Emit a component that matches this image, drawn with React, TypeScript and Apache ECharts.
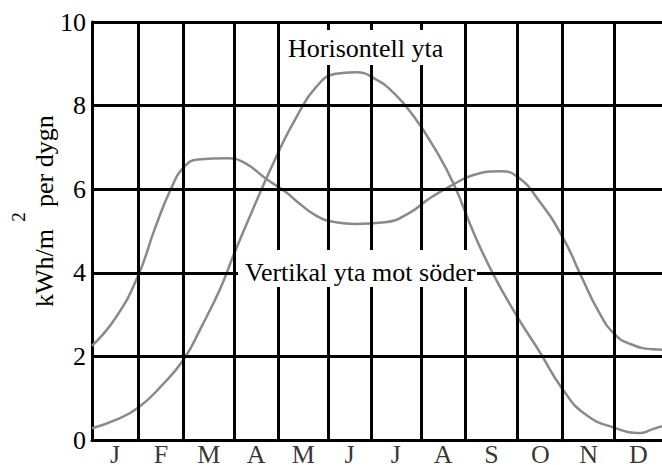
import React, { useEffect, useRef } from "react";
import * as echarts from "echarts";

// Month labels and month boundaries (in month units, 0 = start of Jan, 12 = end of Dec)
const months = ["J", "F", "M", "A", "M", "J", "J", "A", "S", "O", "N", "D"];
const monthEdges = [0.97, 1.932, 2.989, 3.921, 4.978, 5.87, 6.927, 7.859, 8.964, 9.911, 11.001];
const yTicks = [0, 2, 4, 6, 8, 10];

// kWh/m2 per dygn, horizontal surface
const horizontalSurface: [number, number][] = [
  [0, 0.28], [0.5, 0.48], [0.97, 0.77], [1.467, 1.3], [1.932, 1.93], [2.296, 2.69],
  [2.711, 3.65], [2.989, 4.45], [3.403, 5.56], [3.921, 6.88], [4.301, 7.72],
  [4.715, 8.44], [5.13, 8.76], [5.544, 8.8], [5.959, 8.64], [6.373, 8.28],
  [6.788, 7.72], [7.202, 7.0], [7.617, 6.12], [8.031, 4.97], [8.446, 3.97],
  [8.964, 2.93], [9.413, 2.13], [9.911, 1.21], [10.379, 0.62], [11.001, 0.29],
  [11.554, 0.17], [11.803, 0.26], [12, 0.33],
];

// kWh/m2 per dygn, vertical surface facing south
const verticalSouth: [number, number][] = [
  [0, 2.25], [0.502, 2.93], [0.97, 3.93], [1.331, 5.08], [1.675, 6.04], [1.932, 6.52],
  [2.228, 6.71], [2.85, 6.74], [3.196, 6.64], [3.679, 6.24], [4.093, 5.92],
  [4.301, 5.72], [4.715, 5.37], [5.13, 5.21], [5.544, 5.17], [6.166, 5.21],
  [6.649, 5.41], [7.134, 5.8], [7.617, 6.12], [8.031, 6.34], [8.585, 6.43],
  [8.964, 6.29], [9.413, 5.72], [9.911, 4.85], [10.311, 3.89], [10.657, 3.09],
  [11.001, 2.53], [11.347, 2.29], [11.803, 2.17], [12, 2.16],
];

const FONT = "Liberation Serif";

export default function App() {
  const ref = useRef<HTMLDivElement>(null);

  useEffect(() => {
    if (!ref.current) return;
    const chart = echarts.init(ref.current, undefined, { renderer: "svg" });
    const edgesAll = [0, ...monthEdges, 12];
    const labelData = months.map((m, i) => ({
      name: m,
      value: [(edgesAll[i] + edgesAll[i + 1]) / 2, 0],
    }));
    const curveStyle = { color: "#8a8a8a", width: 2.5 };
    const txt = (size: number) => ({ fill: "#000", fontFamily: FONT, fontSize: size });

    chart.setOption({
      animation: false,
      backgroundColor: "#fff",
      textStyle: { fontFamily: FONT },
      grid: { left: 92, top: 22, right: -9.5, bottom: 25, containLabel: false },
      xAxis: {
        type: "value",
        min: 0,
        max: 12,
        axisLine: { show: true, lineStyle: { color: "#000", width: 3 } },
        axisTick: { show: false },
        axisLabel: { show: false },
        splitLine: { show: false },
      },
      yAxis: {
        type: "value",
        min: 0,
        max: 10,
        interval: 2,
        axisLine: { show: true, lineStyle: { color: "#000", width: 3 } },
        axisTick: { show: false },
        axisLabel: { color: "#000", fontFamily: FONT, fontSize: 26, margin: 6 },
        splitLine: { show: false },
      },
      series: [
        {
          type: "line",
          name: "Horisontell yta",
          data: horizontalSurface,
          smooth: 0.5,
          symbol: "none",
          lineStyle: curveStyle,
          z: 2,
        },
        {
          type: "line",
          name: "Vertikal yta mot söder",
          data: verticalSouth,
          smooth: 0.5,
          symbol: "none",
          lineStyle: curveStyle,
          z: 2,
        },
        {
          type: "line",
          name: "grid",
          data: [],
          z: 5,
          markLine: {
            silent: true,
            symbol: ["none", "none"],
            label: { show: false },
            lineStyle: { color: "#000", width: 3, type: "solid" },
            emphasis: { disabled: true },
            data: [
              ...monthEdges.map((v) => ({ xAxis: v })),
              ...yTicks.map((v) => ({ yAxis: v })),
            ],
          },
        },
        {
          type: "scatter",
          name: "months",
          data: labelData,
          symbolSize: 1,
          itemStyle: { color: "rgba(0,0,0,0)" },
          silent: true,
          label: {
            show: true,
            position: "bottom",
            distance: 1,
            formatter: (p: any) => p.name,
            color: "#000",
            fontFamily: FONT,
            fontSize: 26,
          },
          z: 6,
        },
      ],
      graphic: [
        { type: "rect", z: 100, shape: { x: 286, y: 30, width: 158, height: 35 }, style: { fill: "#fff" } },
        {
          type: "text", z: 101, x: 288, y: 48,
          style: { text: "Horisontell yta", ...txt(26), textAlign: "left", textVerticalAlign: "middle" },
        },
        { type: "rect", z: 100, shape: { x: 238, y: 250, width: 239, height: 37 }, style: { fill: "#fff" } },
        {
          type: "text", z: 101, x: 245, y: 272,
          style: { text: "Vertikal yta mot söder", ...txt(26), textAlign: "left", textVerticalAlign: "middle" },
        },
        {
          type: "text", z: 101, x: 44, y: 307, rotation: Math.PI / 2,
          style: { text: "kWh/m", ...txt(26), textAlign: "left", textVerticalAlign: "middle" },
        },
        {
          type: "text", z: 101, x: 18, y: 217, rotation: Math.PI / 2,
          style: { text: "2", ...txt(19), textAlign: "center", textVerticalAlign: "middle" },
        },
        {
          type: "text", z: 101, x: 44, y: 207, rotation: Math.PI / 2,
          style: { text: "per dygn", ...txt(26), textAlign: "left", textVerticalAlign: "middle" },
        },
      ],
    });
    return () => chart.dispose();
  }, []);

  return (
    <div
      ref={ref}
      style={{ position: "fixed", left: 0, top: 0, width: 662, height: 465, background: "#fff" }}
    />
  );
}
